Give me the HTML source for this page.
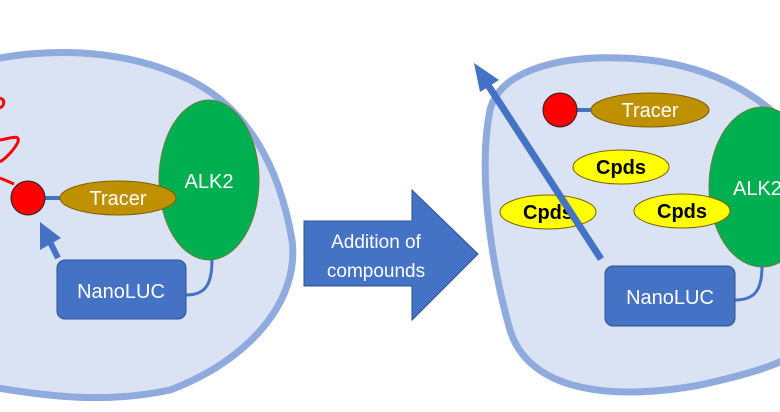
<!DOCTYPE html>
<html><head><style>body{margin:0;background:#fff}svg{display:block}</style></head><body>
<svg width="780" height="412" viewBox="0 0 780 412" xmlns="http://www.w3.org/2000/svg" font-family="Liberation Sans, sans-serif">
<path d="M-20,62 C40,48 120,46 190,80 C250,110 280,170 292,240 C300,300 250,360 170,390 C100,405 40,395 -20,385 Z" fill="#dae3f3" stroke="#8faadc" stroke-width="7"/>
<path d="M800,140 C760,90 700,60 620,58 C560,56 500,70 490,110 C478,170 490,260 510,330 C530,395 620,400 700,385 C760,372 790,360 800,350 Z" fill="#dae3f3" stroke="#8faadc" stroke-width="7"/>
<path d="M0,108 C4,106 6,100 0,98 M0,140 C12,138 20,134 18,142 C14,150 6,158 0,162 M0,178 L14,184" fill="none" stroke="#ff0000" stroke-width="3"/>
<line x1="40" y1="198" x2="62" y2="198" stroke="#4472c4" stroke-width="4"/>
<circle cx="28" cy="198" r="17" fill="#ff0000" stroke="#222" stroke-width="1"/>
<ellipse cx="209" cy="180" rx="50" ry="80" fill="#00b050" stroke="#6b7b3b" stroke-width="1"/>
<ellipse cx="118" cy="198" rx="58" ry="17" fill="#bf9000" stroke="#7f6000" stroke-width="1"/>
<text x="118" y="205" font-size="20" fill="#fff" text-anchor="middle">Tracer</text>
<text x="209" y="188" font-size="20" fill="#fff" text-anchor="middle">ALK2</text>
<path d="M186,295 C205,295 212,285 212,260" fill="none" stroke="#4472c4" stroke-width="3"/>
<rect x="57" y="260" width="129" height="59" rx="8" fill="#4472c4" stroke="#2f528f" stroke-width="1"/>
<text x="121" y="298" font-size="20" fill="#fff" text-anchor="middle">NanoLUC</text>
<line x1="58" y1="258" x2="49" y2="240" stroke="#4472c4" stroke-width="6"/>
<polygon points="40,222 61,238 40,250" fill="#4472c4"/>
<polygon points="304,221 412,221 412,190 478,254 412,320 412,286 304,286" fill="#4472c4" stroke="#2f528f" stroke-width="1"/>
<text x="376" y="248" font-size="19" fill="#fff" text-anchor="middle">Addition of</text>
<text x="376" y="277" font-size="19" fill="#fff" text-anchor="middle">compounds</text>
<line x1="570" y1="110" x2="592" y2="110" stroke="#4472c4" stroke-width="4"/>
<circle cx="560" cy="110" r="17" fill="#ff0000" stroke="#222" stroke-width="1"/>
<ellipse cx="650" cy="110" rx="59" ry="17" fill="#bf9000" stroke="#7f6000" stroke-width="1"/>
<text x="650" y="117" font-size="20" fill="#fff" text-anchor="middle">Tracer</text>
<ellipse cx="762" cy="187" rx="53" ry="80" fill="#00b050" stroke="#6b7b3b" stroke-width="1"/>
<text x="733" y="195" font-size="20" fill="#fff">ALK2</text>
<ellipse cx="621" cy="167" rx="48" ry="17" fill="#ffff00" stroke="#7f6000" stroke-width="1"/>
<text x="621" y="174" font-size="20" font-weight="bold" text-anchor="middle">Cpds</text>
<ellipse cx="548" cy="212" rx="48" ry="17" fill="#ffff00" stroke="#7f6000" stroke-width="1"/>
<text x="548" y="219" font-size="20" font-weight="bold" text-anchor="middle">Cpds</text>
<ellipse cx="682" cy="211" rx="48" ry="17" fill="#ffff00" stroke="#7f6000" stroke-width="1"/>
<text x="682" y="218" font-size="20" font-weight="bold" text-anchor="middle">Cpds</text>
<line x1="601" y1="259" x2="488" y2="85" stroke="#4472c4" stroke-width="7"/>
<polygon points="474,63 499,80 480,92" fill="#4472c4"/>
<path d="M735,300 C755,300 762,290 762,266" fill="none" stroke="#4472c4" stroke-width="3"/>
<rect x="605" y="266" width="130" height="60" rx="8" fill="#4472c4" stroke="#2f528f" stroke-width="1"/>
<text x="670" y="304" font-size="20" fill="#fff" text-anchor="middle">NanoLUC</text>
</svg>
</body></html>
